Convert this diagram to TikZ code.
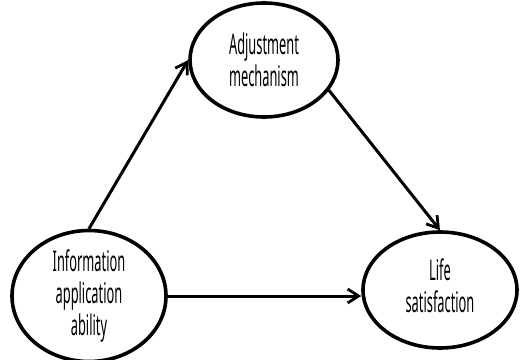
\documentclass[tikz,border=0pt]{standalone}
\usepackage{fontspec}
\setmainfont{Noto Sans}[FakeStretch=0.45]
\usetikzlibrary{shapes.geometric,arrows.meta}
\begin{document}
\begin{tikzpicture}[x=1pt,y=-1pt,
  construct/.style={draw=black, line width=3.6pt, ellipse, fill=white,
    minimum width=154pt, minimum height=116pt, inner sep=0pt,
    align=center, font=\fontsize{28.5}{32}\selectfont},
  path/.style={draw=black, line width=3pt,
    -{Straight Barb[length=11pt,width=14pt,line width=2.8pt]}}]
  \useasboundingbox (0,0) rectangle (522,359);
  \node[construct] (info) at (89,296) {Information\\application\\ability};
  \node[construct, minimum width=148pt, minimum height=114pt] (adj) at (264,60) {Adjustment\\mechanism};
  \node[construct] (life) at (440,290) {\raisebox{-7pt}{\begin{tabular}{@{}c@{}}Life\\satisfaction\end{tabular}}};
  \draw[path] (info.north) -- (adj.west);
  \draw[path] (adj.-25) -- (life.north);
  \draw[path] (info.east) -- (info.east -| life.west);
\end{tikzpicture}
\end{document}
